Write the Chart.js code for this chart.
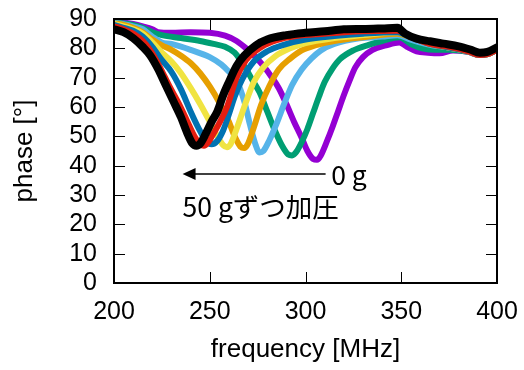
<!DOCTYPE html>
<html>
<head>
<meta charset="utf-8">
<script src="https://cdn.jsdelivr.net/npm/chart.js"></script>
<style>
    html, body { margin: 0; padding: 0; background: #fff; }
    #wrap { width: 524px; height: 370px; }
</style>
</head>
<body>
<div id="wrap"><canvas id="phaseChart" width="524" height="370"></canvas></div>
<script>
// load steps (0 g, then +50 g each)
const loads = ["0 g", "50 g", "100 g", "150 g", "200 g", "250 g", "300 g", "350 g"];
const lineColors = ["#9400d3", "#009e73", "#56b4e9", "#e69f00", "#f0e442", "#0072b2", "#e51e10", "#000000"];

// [frequency MHz, phase deg]
const phase0g = [[200,89],[205,88.8],[210,88.3],[215,87.5],[220,86.5],[223,85.5],[230,85.3],[240,85.5],[250,85.3],[258,84.3],[264,82.5],[269,80],[274,77],[278,74],[282,70.5],[286,66.5],[290,61],[294,55],[298,49.5],[301,45],[304,42.3],[306,42],[308,43.5],[311,48],[314,53],[317,58.5],[320,64],[323,69],[326,73.5],[330,77],[335,79.5],[342,81],[349,82],[353,80.5],[358,79],[364,78.5],[370,78.3],[377,79.3],[385,78.8],[391,77.7],[395,78],[400,79.5]];
const phase50g = [[200,88.8],[205,88.5],[210,88],[215,87],[220,85.5],[225,84.5],[235,83.5],[245,82.5],[252,81.5],[258,80.5],[263,78.5],[268,74],[272,69.5],[276,65],[280,58.5],[284,52],[288,46.5],[291,43.8],[293,43.5],[295,44.5],[298,48],[301,52.5],[304,58],[307,63.5],[310,68.5],[314,73],[318,76.3],[325,79.3],[333,81.2],[340,82.5],[349,83.8],[355,81.5],[361,80],[368,79.5],[375,79.5],[385,78.8],[391,77.7],[395,78],[400,79.5]];
const phase100g = [[200,88.7],[205,88.2],[210,87.5],[215,86.5],[220,84],[225,82],[230,81.5],[240,79.5],[250,77],[256,74.5],[260,72],[264,69],[268,62],[271,54],[274,47],[276,44.5],[278,45],[281,48.5],[285,54.5],[289,61.3],[293,67.5],[298,72.8],[303,76.5],[308,79.3],[315,81.5],[328,83.4],[340,84],[348,84.5],[355,83],[365,81.2],[375,80.2],[385,79],[391,77.7],[395,78],[400,79.5]];
const phase150g = [[200,88.5],[205,88],[210,87],[215,85.5],[220,83],[225,81],[230,79.5],[235,77.5],[240,75],[245,71.5],[250,67],[255,61.5],[260,55],[263,50],[266,46.5],[268,46],[270,47.5],[273,53],[277,61],[281,67],[286,72.8],[292,76.5],[298,79.3],[305,81],[315,82.5],[330,83.8],[348,85],[355,83.8],[365,81.5],[375,80.3],[385,79],[391,77.7],[395,78],[400,79.5]];
const phase200g = [[200,88.3],[205,87.5],[210,86.5],[215,85],[220,82],[225,78.5],[230,75.5],[235,71.5],[240,66.5],[245,61],[250,55],[254,50],[257,47],[259,46.3],[261,47.5],[264,52.5],[268,60],[273,68.5],[278,73.5],[284,77.2],[292,80],[300,81.8],[315,83.5],[330,84.5],[348,85.5],[355,83.8],[365,81.5],[375,80.3],[385,79],[391,77.7],[395,78],[400,79.5]];
const phase250g = [[200,88],[205,87],[210,86],[215,84],[220,80.5],[225,76],[230,72],[235,66],[240,58.5],[244,53],[248,48.5],[251,47.3],[254,48.5],[257,52],[260,57.5],[263,63.5],[267,69.5],[273,75.5],[280,79],[289,81.3],[300,83],[315,84.2],[330,85],[348,85.5],[355,83.8],[365,81.5],[375,80.3],[385,79],[391,77.7],[395,78],[400,79.5]];
const phase300g = [[200,87.5],[205,86.5],[210,85],[215,82.5],[219,79.3],[224,73.5],[229,67],[234,61],[238,55.5],[242,50],[245,47.3],[247,46.8],[249,47.8],[252,51],[255,54.5],[259,60],[264,70],[269,76],[277,80.5],[285,82.8],[295,84.2],[310,85],[330,85.8],[348,86],[355,84],[365,81.5],[375,80.5],[385,79],[391,77.7],[395,78],[400,79.5]];
const phase350g = [[200,86.5],[205,85.5],[210,83.5],[215,80.5],[219,77.5],[223,73],[227,67.5],[231,62],[235,56.5],[238,51.5],[241,47.5],[243,46.8],[245,47.5],[248,51],[251,55],[254,58.5],[257,64],[260,68.5],[264,74],[268,77.5],[274,81],[280,83],[290,84.5],[300,85.3],[310,85.8],[320,86.5],[330,86.6],[340,86.8],[348,87],[352,85],[358,83.3],[365,82.4],[372,81.6],[380,80.7],[386,79.6],[391,78.5],[395,78.8],[400,80.3]];

const allPhases = [phase0g, phase50g, phase100g, phase150g, phase200g, phase250g, phase300g, phase350g];

const xTicks = [200, 250, 300, 350, 400];
const yTicks = [0, 10, 20, 30, 40, 50, 60, 70, 80, 90];

// arrow and labels, in data units
const arrowFrom = [310.5, 37.2];
const arrowTo = [235.8, 37.2];
const label0g = { text: "0 g", at: [313.4, 33.4] };
const labelStep = { text: "50 gずつ加圧", at: [235.8, 22.4] };

const frameAndTicks = {
    id: "frameAndTicks",
    afterDraw(chart) {
        const { ctx, chartArea: a, scales: { x, y } } = chart;
        const tickLen = 11;
        ctx.save();
        ctx.strokeStyle = "#000";
        ctx.lineWidth = 1;
        ctx.beginPath();
        xTicks.forEach((v) => {
            const px = Math.round(x.getPixelForValue(v)) + 0.5;
            ctx.moveTo(px, a.bottom); ctx.lineTo(px, a.bottom - tickLen);
            ctx.moveTo(px, a.top); ctx.lineTo(px, a.top + tickLen);
        });
        yTicks.forEach((v) => {
            const py = Math.round(y.getPixelForValue(v)) + 0.5;
            ctx.moveTo(a.left, py); ctx.lineTo(a.left + tickLen, py);
            ctx.moveTo(a.right, py); ctx.lineTo(a.right - tickLen, py);
        });
        ctx.stroke();

        ctx.lineWidth = 2;
        ctx.strokeRect(a.left, a.top, a.right - a.left, a.bottom - a.top);

        // arrow
        const x0 = x.getPixelForValue(arrowFrom[0]);
        const x1 = x.getPixelForValue(arrowTo[0]);
        const ya = y.getPixelForValue(arrowFrom[1]);
        ctx.lineWidth = 1.5;
        ctx.beginPath();
        ctx.moveTo(x0, ya);
        ctx.lineTo(x1 + 10, ya);
        ctx.stroke();
        ctx.fillStyle = "#000";
        ctx.beginPath();
        ctx.moveTo(x1, ya);
        ctx.lineTo(x1 + 13, ya - 6);
        ctx.lineTo(x1 + 13, ya + 6);
        ctx.closePath();
        ctx.fill();

        ctx.font = '26.5px "Noto Sans CJK JP", "Noto Sans", sans-serif';
        ctx.textAlign = "left";
        ctx.textBaseline = "alphabetic";
        [label0g, labelStep].forEach((l) => {
            ctx.fillText(l.text, x.getPixelForValue(l.at[0]), y.getPixelForValue(l.at[1]));
        });
        ctx.restore();
    }
};

const tickFont = { family: '"Liberation Sans", Arial, sans-serif', size: 25 };
const titleFont = { family: '"Liberation Sans", Arial, sans-serif', size: 26 };

new Chart(document.getElementById("phaseChart"), {
    type: "line",
    data: {
        datasets: allPhases.map((pts, i) => ({
            label: loads[i],
            data: pts.map(([f, p]) => ({ x: f, y: p })),
            borderColor: lineColors[i],
            borderWidth: i === allPhases.length - 1 ? 8 : 6,
            pointRadius: 0,
            cubicInterpolationMode: "monotone",
            borderCapStyle: "round",
            borderJoinStyle: "round",
            order: allPhases.length - i
        }))
    },
    options: {
        responsive: false,
        devicePixelRatio: 1,
        animation: false,
        layout: { padding: { left: 0, right: 27, top: 19, bottom: 0 } },
        plugins: { legend: { display: false }, tooltip: { enabled: false } },
        scales: {
            x: {
                type: "linear",
                min: 200,
                max: 400,
                afterFit: (scale) => { scale.height = 87; scale.paddingLeft = 0; scale.paddingRight = 0; },
                afterBuildTicks: (scale) => { scale.ticks = xTicks.map((v) => ({ value: v })); },
                grid: { display: false, drawTicks: false },
                border: { display: false },
                ticks: { color: "#000", font: tickFont, padding: 14, maxRotation: 0, autoSkip: false },
                title: { display: true, text: "frequency [MHz]", color: "#000", font: titleFont, padding: { top: 0, bottom: 5 } }
            },
            y: {
                min: 0,
                max: 90,
                afterFit: (scale) => { scale.width = 114; scale.paddingTop = 0; scale.paddingBottom = 0; },
                afterBuildTicks: (scale) => { scale.ticks = yTicks.map((v) => ({ value: v })); },
                grid: { display: false, drawTicks: false },
                border: { display: false },
                ticks: { color: "#000", font: tickFont, padding: 17, autoSkip: false },
                title: { display: true, text: "phase [°]", color: "#000", font: titleFont, padding: { top: 9, bottom: 0 } }
            }
        }
    },
    plugins: [frameAndTicks]
});
</script>
</body>
</html>
